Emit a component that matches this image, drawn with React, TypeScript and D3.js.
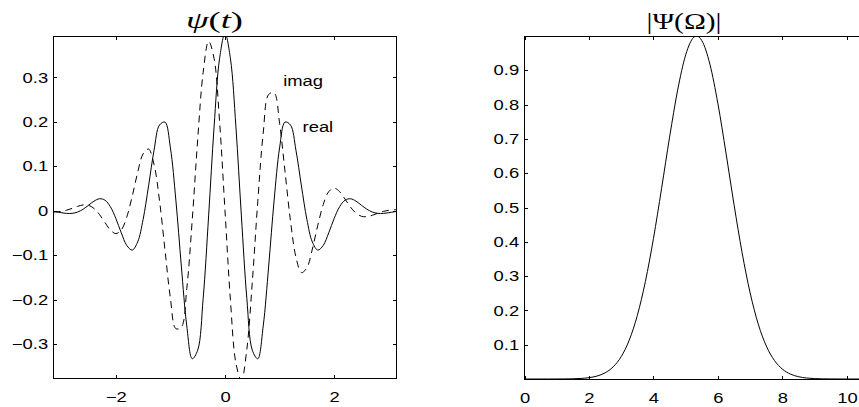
import React, { useEffect, useRef } from "react";
import * as d3 from "d3";

const WIDTH = 859;
const HEIGHT = 407;
const STRETCH = 1.27; // the reference text is drawn a bit wide
const SANS = "'Liberation Sans', Arial, Helvetica, sans-serif";
const SERIF = "'Liberation Serif', 'Times New Roman', serif";
const TICK_FONT = 14.5;
const TICK_LEN = 3.5;

// psi(t)
const tValues = [
  -3.14, -3.1, -3.0, -2.9, -2.8, -2.7, -2.6, -2.5, -2.4, -2.3, -2.2, -2.1, -2.0,
  -1.9, -1.8, -1.7, -1.6, -1.5, -1.4, -1.3, -1.2, -1.1, -1.0, -0.9, -0.8, -0.7,
  -0.6, -0.5, -0.4, -0.3, -0.2, -0.1, 0, 0.1, 0.2, 0.3, 0.4, 0.5, 0.6, 0.7, 0.8,
  0.9, 1.0, 1.1, 1.2, 1.3, 1.4, 1.5, 1.6, 1.7, 1.8, 1.9, 2.0, 2.1, 2.2, 2.3, 2.4,
  2.5, 2.6, 2.7, 2.8, 2.9, 3.0, 3.1, 3.14,
];
const realValues = [
  -0.0014, -0.0022, -0.0042, -0.0058, -0.0057, -0.0028, 0.0035, 0.0125, 0.0217,
  0.0271, 0.024, 0.0092, -0.0171, -0.0496, -0.0777, -0.0883, -0.0701, -0.0194,
  0.056, 0.136, 0.1928, 0.1995, 0.1414, 0.024, -0.1242, -0.2588, -0.3326, -0.3133,
  -0.1968, -0.0115, 0.1887, 0.3418, 0.3989, 0.3418, 0.1887, -0.0115, -0.1968,
  -0.3133, -0.3326, -0.2588, -0.1242, 0.024, 0.1414, 0.1995, 0.1928, 0.136, 0.056,
  -0.0194, -0.0701, -0.0883, -0.0777, -0.0496, -0.0171, 0.0092, 0.024, 0.0271,
  0.0217, 0.0125, 0.0035, -0.0028, -0.0057, -0.0058, -0.0042, -0.0022, -0.0014,
];
const imagValues = [
  -0.0025, -0.0024, -0.0013, 0.0014, 0.0055, 0.01, 0.0131, 0.0123, 0.0053, -0.0082,
  -0.0261, -0.043, -0.0512, -0.043, -0.0142, 0.0325, 0.086, 0.1281, 0.1389, 0.1043,
  0.0233, -0.0875, -0.1964, -0.265, -0.2617, -0.1747, -0.0201, 0.1605, 0.3113,
  0.3812, 0.3425, 0.2019, 0, -0.2019, -0.3425, -0.3812, -0.3113, -0.1605, 0.0201,
  0.1747, 0.2617, 0.265, 0.1964, 0.0875, -0.0233, -0.1043, -0.1389, -0.1281, -0.086,
  -0.0325, 0.0142, 0.043, 0.0512, 0.043, 0.0261, 0.0082, -0.0053, -0.0123, -0.0131,
  -0.01, -0.0055, -0.0014, 0.0013, 0.0024, 0.0025,
];
const waveXLimits = [-3.1416, 3.1416];
const waveYLimits = [-0.377, 0.393];
const waveXTicks = [-2, 0, 2];
const waveYTicks = [-0.3, -0.2, -0.1, 0, 0.1, 0.2, 0.3];
const waveNotes = [
  { label: "imag", t: 1.065, v: 0.28 },
  { label: "real", t: 1.42, v: 0.178 },
];

// |Psi(Omega)|
const omegaValues = [
  0, 0.25, 0.5, 0.75, 1, 1.25, 1.5, 1.75, 2, 2.25, 2.5, 2.75, 3, 3.25, 3.5, 3.75, 4,
  4.25, 4.5, 4.75, 5, 5.25, 5.34, 5.5, 5.75, 6, 6.25, 6.5, 6.75, 7, 7.25, 7.5, 7.75,
  8, 8.25, 8.5, 8.75, 9, 9.25, 9.5, 9.75, 10, 10.25, 10.5, 10.75,
];
const magnitudeValues = [
  0, 0, 0, 0, 0.0001, 0.0002, 0.0006, 0.0016, 0.0038, 0.0086, 0.018, 0.0354, 0.0653,
  0.1135, 0.1854, 0.2843, 0.4097, 0.5546, 0.7051, 0.8421, 0.9451, 0.9963, 1.0,
  0.9866, 0.9179, 0.8022, 0.6586, 0.508, 0.368, 0.2505, 0.1602, 0.0962, 0.0543,
  0.0288, 0.0143, 0.0067, 0.0029, 0.0012, 0.0005, 0.0002, 0.0001, 0, 0, 0, 0,
];
const specXLimits = [0, 10.67];
const specYLimits = [0, 1];
const specXTicks = [0, 2, 4, 6, 8, 10];
const specYTicks = [0.1, 0.2, 0.3, 0.4, 0.5, 0.6, 0.7, 0.8, 0.9];

const drawPanel = (svg, cfg) => {
  const { id, box, xLim, yLim, xTicks, yTicks } = cfg;
  const x = d3.scaleLinear().domain(xLim).range([box.left, box.right]);
  const y = d3.scaleLinear().domain(yLim).range([box.bottom, box.top]);
  const fmt = d3.format("");

  svg
    .append("clipPath")
    .attr("id", id)
    .append("rect")
    .attr("x", box.left)
    .attr("y", box.top)
    .attr("width", box.right - box.left)
    .attr("height", box.bottom - box.top);

  const plot = svg.append("g").attr("clip-path", `url(#${id})`);
  cfg.series.forEach((s) => {
    const line = d3
      .line()
      .x((d) => x(d[0]))
      .y((d) => y(d[1]))
      .curve(s.curve);
    plot
      .append("path")
      .datum(d3.zip(s.xs, s.ys))
      .attr("d", line)
      .attr("fill", "none")
      .attr("stroke", "#000")
      .attr("stroke-width", 1)
      .attr("stroke-dasharray", s.dash || null);
  });

  const styleText = (g) => {
    g.select(".domain").remove();
    g.selectAll("line").attr("stroke", "#000").attr("shape-rendering", "crispEdges");
    g.attr("font-family", SANS).attr("font-size", TICK_FONT);
    g.selectAll("text").attr("fill", "#000");
  };

  svg
    .append("g")
    .attr("transform", `translate(0,${box.bottom})`)
    .call(d3.axisBottom(x).tickValues(xTicks).tickFormat(fmt).tickSize(-TICK_LEN).tickPadding(13.5))
    .call(styleText)
    .selectAll("text")
    .attr("transform", `scale(${STRETCH},1)`);

  svg
    .append("g")
    .attr("transform", `translate(0,${box.top})`)
    .call(d3.axisTop(x).tickValues(xTicks).tickFormat(() => "").tickSize(-TICK_LEN))
    .call(styleText);

  svg
    .append("g")
    .attr("transform", `translate(${box.left},0)`)
    .call(d3.axisLeft(y).tickValues(yTicks).tickFormat(fmt).tickSize(-TICK_LEN).tickPadding(4.25))
    .call(styleText)
    .selectAll("text")
    .attr("transform", `scale(${STRETCH},1)`);

  svg
    .append("g")
    .attr("transform", `translate(${box.right},0)`)
    .call(d3.axisRight(y).tickValues(yTicks).tickFormat(() => "").tickSize(-TICK_LEN))
    .call(styleText);

  svg
    .append("rect")
    .attr("x", box.left)
    .attr("y", box.top)
    .attr("width", box.right - box.left)
    .attr("height", box.bottom - box.top)
    .attr("fill", "none")
    .attr("stroke", "#000")
    .attr("stroke-width", 1)
    .attr("shape-rendering", "crispEdges");

  (cfg.notes || []).forEach((n) => {
    svg
      .append("text")
      .attr("transform", `translate(${x(n.t)},${y(n.v)}) scale(${STRETCH},1)`)
      .attr("font-family", SANS)
      .attr("font-size", TICK_FONT)
      .text(n.label);
  });

  const title = svg
    .append("text")
    .attr("x", cfg.title.cx)
    .attr("y", cfg.title.baseline)
    .attr("text-anchor", "middle")
    .attr("font-family", SERIF)
    .attr("font-size", 24)
    .attr("textLength", cfg.title.width)
    .attr("lengthAdjust", "spacingAndGlyphs");
  cfg.title.parts.forEach(([txt, italic]) => {
    title
      .append("tspan")
      .attr("font-style", italic ? "italic" : "normal")
      .text(txt);
  });
};

const App = () => {
  const svgRef = useRef(null);

  useEffect(() => {
    document.body.style.margin = "0";
    const svg = d3.select(svgRef.current);
    svg.selectAll("*").remove();

    drawPanel(svg, {
      id: "clip-wave",
      box: { left: 53.5, right: 396.5, top: 36, bottom: 378.5 },
      xLim: waveXLimits,
      yLim: waveYLimits,
      xTicks: waveXTicks,
      yTicks: waveYTicks,
      series: [
        { xs: tValues, ys: realValues, curve: d3.curveCatmullRom },
        { xs: tValues, ys: imagValues, curve: d3.curveCatmullRom, dash: "7,5" },
      ],
      notes: waveNotes,
      title: {
        cx: 214.5,
        baseline: 28,
        width: 57,
        parts: [["ψ", true], ["(", false], ["t", true], [")", false]],
      },
    });

    drawPanel(svg, {
      id: "clip-spec",
      box: { left: 524.5, right: 868.5, top: 36, bottom: 379 },
      xLim: specXLimits,
      yLim: specYLimits,
      xTicks: specXTicks,
      yTicks: specYTicks,
      series: [{ xs: omegaValues, ys: magnitudeValues, curve: d3.curveMonotoneX }],
      title: {
        cx: 684,
        baseline: 29,
        width: 75,
        parts: [["|Ψ(Ω)|", false]],
      },
    });
  }, []);

  return (
    <svg
      ref={svgRef}
      width={WIDTH}
      height={HEIGHT}
      style={{ display: "block", background: "#fff" }}
    ></svg>
  );
};

export default App;
